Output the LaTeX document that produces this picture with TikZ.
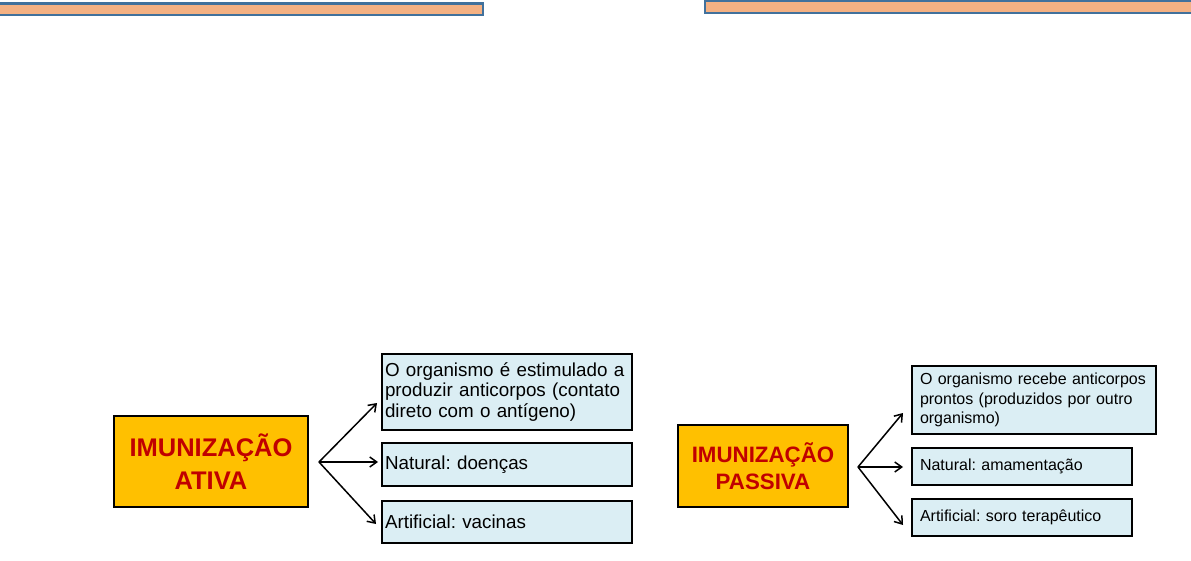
\documentclass[tikz,border=0pt]{standalone}
\usepackage{fontspec}
\setmainfont{Liberation Sans}
\usetikzlibrary{arrows.meta}
\frenchspacing
\definecolor{barfill}{HTML}{F4B183}
\definecolor{barline}{HTML}{41719C}
\definecolor{titlefill}{HTML}{FFC000}
\definecolor{titletext}{HTML}{C00000}
\definecolor{boxfill}{HTML}{DBEEF4}
\tikzset{
  topbar/.style={draw=barline, fill=barfill, line width=2.5pt},
  titlebox/.style={draw=black, fill=titlefill, line width=1.8pt, text=titletext, font=\bfseries, align=center, inner sep=0pt},
  infobox/.style={draw=black, fill=boxfill, line width=1.6pt, align=left, inner ysep=0pt, anchor=center},
  conn/.style={line width=1.5pt, -{Straight Barb[length=7pt,width=10pt]}}
}
\begin{document}
\frenchspacing
\begin{tikzpicture}[x=1pt,y=-1pt]
\useasboundingbox (0,0) rectangle (1191,561);
% top bars
\draw[topbar] (-5,3.5) rectangle (483,15) node[coordinate] (barL) {};
\draw[topbar] (705,1) rectangle (1196,13) node[coordinate] (barR) {};

% left diagram
\node[titlebox, minimum width=194pt, minimum height=91pt, font=\bfseries\fontsize{25.5}{33}\selectfont] (ativa) at (211,461.5) {IMUNIZAÇÃO\\ATIVA};
\node[infobox, text width=244pt, inner xsep=3pt, minimum height=76pt, font=\fontsize{18.8}{20.5}\selectfont] (a1) at (507,392) {O organismo é estimulado a\\produzir anticorpos (contato\\direto com o antígeno)};
\node[infobox, text width=244pt, inner xsep=3pt, minimum height=43pt, font=\fontsize{18.8}{20.5}\selectfont] (a2) at (507,464.5) {Natural: doenças};
\node[infobox, text width=244pt, inner xsep=3pt, minimum height=42pt, font=\fontsize{18.8}{20.5}\selectfont] (a3) at (507,522) {Artificial: vacinas};
\coordinate (ao) at (319,462);
\coordinate (at1) at (377,403);
\coordinate (at2) at (378,462);
\coordinate (at3) at (376,524);
\draw[conn] (ao) -- (at1);
\draw[conn] (ao) -- (at2);
\draw[conn] (ao) -- (at3);

% right diagram
\node[titlebox, minimum width=170pt, minimum height=82pt, font=\bfseries\fontsize{22.3}{27}\selectfont] (passiva) at (763,466) {IMUNIZAÇÃO\\PASSIVA};
\node[infobox, text width=228pt, inner xsep=8pt, minimum height=68pt, font=\fontsize{16}{19.5}\selectfont] (p1) at (1034,400) {O organismo recebe anticorpos\\prontos (produzidos por outro\\organismo)};
\node[infobox, text width=204pt, inner xsep=8pt, minimum height=37pt, font=\fontsize{16}{19.5}\selectfont] (p2) at (1022,466.5) {Natural: amamentação};
\node[infobox, text width=204pt, inner xsep=8pt, minimum height=37pt, font=\fontsize{16}{19.5}\selectfont] (p3) at (1022,517.5) {Artificial: soro terapêutico};
\coordinate (po) at (858,467);
\coordinate (pt1) at (903,413);
\coordinate (pt2) at (903,467);
\coordinate (pt3) at (903,525);
\draw[conn] (po) -- (pt1);
\draw[conn] (po) -- (pt2);
\draw[conn] (po) -- (pt3);
\end{tikzpicture}
\end{document}
